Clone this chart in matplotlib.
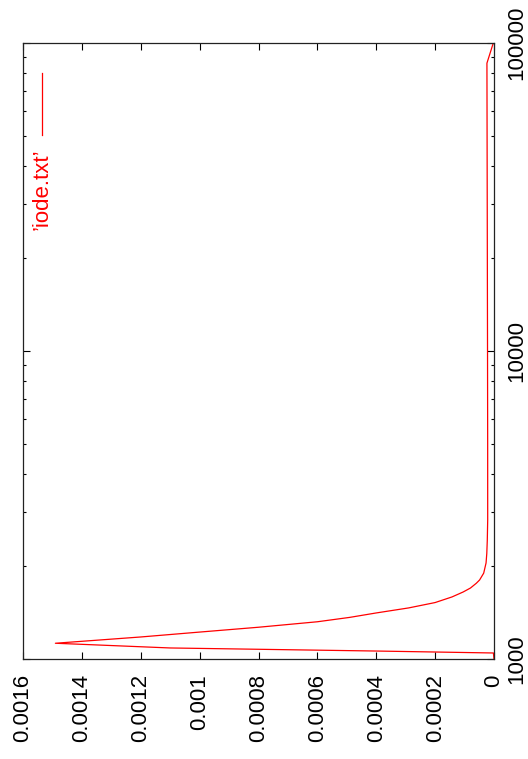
import matplotlib
matplotlib.use("Agg")
import matplotlib.pyplot as plt
from matplotlib.ticker import FixedLocator, FuncFormatter, LogLocator, NullFormatter

plt.rcParams['font.family'] = ['Liberation Sans', 'DejaVu Sans']

# data (x on log scale, value on the rotated axis)
x_vals = [1000, 1046, 1061, 1086, 1125, 1179, 1223, 1268, 1321, 1365, 1411,
          1465, 1525, 1590, 1650, 1700, 1762, 1805, 1900, 2050, 2200, 2430,
          2830, 5000, 10000, 30000, 86000, 100000]
y_vals = [0, 0.000002, 0.00039, 0.0011, 0.00149, 0.0012, 0.001, 0.0008,
          0.0006, 0.00049, 0.0004, 0.00029, 0.0002, 0.000143, 0.000105,
          0.00008, 0.00006, 0.000049, 0.000035, 0.000027, 0.0000245,
          0.0000228, 0.0000214, 0.0000215, 0.000022, 0.000023, 0.000024,
          0.0000024]
value_ticks = [0, 0.0002, 0.0004, 0.0006, 0.0008, 0.001, 0.0012, 0.0014, 0.0016]
log_ticks = [1000, 10000, 100000]
series_label = "\u2019iode.txt\u2019"

fig = plt.figure(figsize=(5.28, 7.59), dpi=100)
ax = fig.add_axes([23 / 528, 100 / 759, 471 / 528, 616 / 759])

# the plot is drawn rotated: value runs right-to-left, x runs bottom-to-top
ax.plot(y_vals, x_vals, color='red', lw=0.9)
ax.set_yscale('log')
ax.set_ylim(1000, 100000)
ax.set_xlim(0.0016, 0)

ax.xaxis.set_major_locator(FixedLocator(value_ticks))
ax.xaxis.set_major_formatter(FuncFormatter(lambda v, p: '%g' % v))
ax.yaxis.set_major_locator(FixedLocator(log_ticks))
ax.yaxis.set_major_formatter(FuncFormatter(lambda v, p: '%d' % v))
ax.yaxis.set_minor_locator(LogLocator(base=10, subs=range(2, 10)))
ax.yaxis.set_minor_formatter(NullFormatter())

ax.tick_params(axis='x', which='both', direction='in', bottom=True, top=True,
               length=5, width=0.8, labelsize=16, labelrotation=90, pad=11)
ax.tick_params(axis='y', which='both', direction='in', left=True, right=True,
               labelleft=False, labelright=True, width=0.8, labelsize=16, pad=9)
ax.tick_params(axis='y', which='major', length=5)
ax.tick_params(axis='y', which='minor', length=2.5)
for lab in ax.get_yticklabels():
    lab.set_rotation(90)
    lab.set_va('center')
for s in ax.spines.values():
    s.set_linewidth(0.9)
    s.set_color('#222222')

# key (rotated like the rest of the chart)
ax.plot([0.0397, 0.0397], [0.851, 0.951], transform=ax.transAxes,
        color='red', lw=0.9, clip_on=False)
ax.text(0.0397, 0.829, series_label, transform=ax.transAxes, color='red',
        fontsize=16, rotation=90, rotation_mode='anchor', ha='right', va='center')

fig.savefig('out.png', dpi=100)
